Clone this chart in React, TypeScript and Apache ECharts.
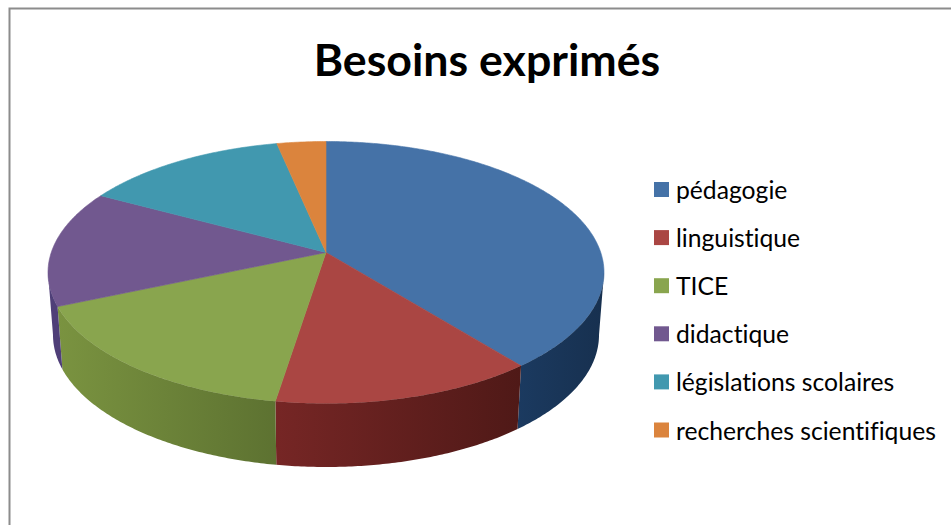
import React, { useEffect, useRef } from "react";
import * as echarts from "echarts";

const titleText = "Besoins exprimés";
const categories = ["pédagogie", "linguistique", "TICE", "didactique", "législations scolaires", "recherches scientifiques"];
const shares = [39.25, 13.25, 16.0, 14.4, 13.8, 3.3];
const topColors = ["#4572A7", "#AA4643", "#89A54E", "#71588F", "#4198AF", "#DB843D"];
const wallStops = [
  ["#1b3a60", "#17304f"],
  ["#762625", "#4f1917"],
  ["#7a9340", "#5d7231"],
  ["#4f3f78", "#4f3f78"],
  ["#2a6a7c", "#2a6a7c"],
  ["#a05c28", "#a05c28"],
];

const CX = 326;
const TOP_CY = 272.5;
const TOP_RX = 278;
const TOP_RY = 131;
const LOW_CY = 335;
const LOW_RX = 273;
const LOW_RY = 132;
const A = -0.153; // perspective shift of the pie's apex

// Perspective projection of the unit disc; the rim stays on the ellipse.
function disc(theta: number) {
  const x = Math.sin(theta);
  const y = -Math.cos(theta);
  const d = 1 + A * y;
  return { u: (x * Math.sqrt(1 - A * A)) / d, v: (y + A) / d };
}
const topPt = (theta: number) => {
  const { u, v } = disc(theta);
  return [CX + TOP_RX * u, TOP_CY + TOP_RY * v];
};
const lowPt = (theta: number) => {
  const { u, v } = disc(theta);
  return [CX + LOW_RX * u, LOW_CY + LOW_RY * v];
};
const FRONT_START = Math.acos(A);
const FRONT_END = 2 * Math.PI - FRONT_START;

function sweep(a: number, b: number, f: (t: number) => number[]) {
  const n = Math.max(2, Math.ceil(Math.abs(b - a) / 0.01));
  const pts: number[][] = [];
  for (let i = 0; i <= n; i++) pts.push(f(a + ((b - a) * i) / n));
  return pts;
}

const total = shares.reduce((s, v) => s + v, 0);

function makeRenderItem(index: number) {
  return (_params: any, api: any) => {
    const start = (api.value(0) / total) * Math.PI * 2;
    const end = start + (api.value(1) / total) * Math.PI * 2;
    const children: any[] = [];
    const apex = [CX, TOP_CY + TOP_RY * A];
    children.push({
      type: "polygon",
      shape: { points: [apex, ...sweep(start, end, topPt)] },
      style: { fill: topColors[index], stroke: topColors[index], lineWidth: 0.6 },
    });
    const wa = Math.max(start, FRONT_START);
    const wb = Math.min(end, FRONT_END);
    if (wb > wa) {
      children.push({
        type: "polygon",
        shape: { points: [...sweep(wa, wb, topPt), ...sweep(wb, wa, lowPt)] },
        style: {
          fill: new echarts.graphic.LinearGradient(index === 2 ? 1 : 0, 0, index === 2 ? 0 : 1, 0, [
            { offset: 0, color: wallStops[index][index === 2 ? 1 : 0] },
            { offset: 1, color: wallStops[index][index === 2 ? 0 : 1] },
          ]),
        },
      });
    }
    return { type: "group", children };
  };
}

export default function App() {
  const ref = useRef<HTMLDivElement>(null);
  useEffect(() => {
    const chart = echarts.init(ref.current!, null, { renderer: "svg" });
    let cum = 0;
    const series = categories.map((name, i) => {
      const row = [cum, shares[i]];
      cum += shares[i];
      return {
        type: "custom",
        name,
        coordinateSystem: "none",
        silent: true,
        itemStyle: { color: topColors[i] },
        renderItem: makeRenderItem(i),
        data: [row],
      };
    });
    chart.setOption({
      animation: false,
      backgroundColor: "#ffffff",
      title: {
        text: titleText,
        left: 482,
        top: 31,
        textAlign: "center",
        textStyle: { fontFamily: "Lato", fontWeight: "bold", fontSize: 44.7, color: "#000000" },
      },
      legend: {
        orient: "vertical",
        left: 654,
        top: 177,
        itemWidth: 15,
        itemHeight: 15,
        itemGap: 23.1,
        icon: "rect",
        padding: 0,
        data: categories,
        selectedMode: false,
        textStyle: { fontFamily: "Lato", fontSize: 24.7, color: "#000000", padding: [0, 0, 0, 2] },
      },
      graphic: [
        {
          type: "polyline",
          shape: { points: [[9.5, 525], [9.5, 8.5], [951, 8.5]] },
          style: { stroke: "#8c8c8c", lineWidth: 2, fill: "none" },
        },
      ],
      series,
    });
    return () => chart.dispose();
  }, []);
  return (
    <div
      ref={ref}
      style={{ position: "absolute", left: 0, top: 0, width: 951, height: 525, fontVariantLigatures: "none" }}
    />
  );
}
